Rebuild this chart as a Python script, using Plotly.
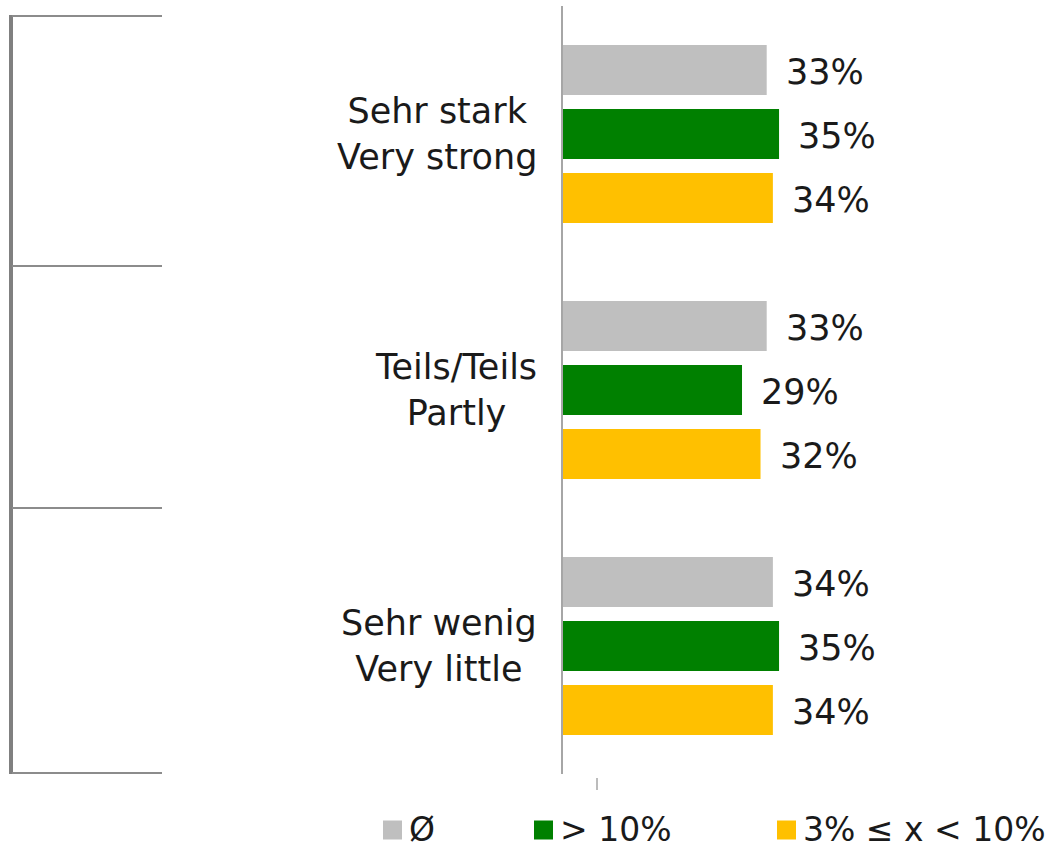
import plotly.graph_objects as go

# Categories (two-line labels) and series
categories = ["Sehr stark<br>Very strong", "Teils/Teils<br>Partly", "Sehr wenig<br>Very little"]
series_names = ["Ø", "> 10%", "3% ≤ x < 10%"]
avg_values = [33, 33, 34]
high_values = [35, 29, 35]
mid_values = [34, 32, 34]
series_values = [avg_values, high_values, mid_values]
series_colors = ["#BFBFBF", "#008000", "#FFC000"]

FONT = "DejaVu Sans"
TEXT_COLOR = "#1a1a1a"
FONT_SIZE = 35
LEGEND_FONT_SIZE = 33

W, H = 1063, 852
M_L, M_R, M_T, M_B = 563, 0, 6, 78
PLOT_W = W - M_L - M_R
PLOT_H = H - M_T - M_B

fig = go.Figure()
for name, vals, color in zip(series_names, series_values, series_colors):
    fig.add_trace(go.Bar(
        y=categories, x=vals, name=name, orientation="h",
        marker=dict(color=color, line=dict(width=0)),
    ))

# Slot height of one bar within a category (pixels), used to place value labels
bargap = 0.25
group_px = PLOT_H / len(categories)
slot_px = group_px * (1 - bargap) / len(series_names)

annotations = []
for i, vals in enumerate(series_values):
    shift = (1 - i) * slot_px
    for cat, v in zip(categories, vals):
        annotations.append(dict(
            x=v, y=cat, xref="x", yref="y", text=f"{v}%",
            showarrow=False, xanchor="left", yanchor="middle",
            xshift=17, yshift=shift - 2,
            font=dict(family=FONT, size=FONT_SIZE, color=TEXT_COLOR),
        ))

# Category labels, centred lines right-aligned against the axis
for cat in categories:
    annotations.append(dict(
        x=0, y=cat, xref="paper", yref="y", text=cat,
        showarrow=False, xanchor="right", yanchor="middle", align="center",
        xshift=-24,
        font=dict(family=FONT, size=FONT_SIZE, color=TEXT_COLOR),
    ))


def px_x(px):
    return (px - M_L) / PLOT_W


def px_y(py):
    return (H - M_B - py) / PLOT_H


# Bracket on the left: vertical bar with horizontal separators
shapes = [dict(type="line", xref="paper", yref="paper",
               x0=px_x(11), x1=px_x(11), y0=px_y(15), y1=px_y(774),
               line=dict(color="#808080", width=4))]
for py in [16, 266, 508, 773]:
    shapes.append(dict(type="line", xref="paper", yref="paper",
                       x0=px_x(12), x1=px_x(162), y0=px_y(py), y1=px_y(py),
                       line=dict(color="#8C8C8C", width=2)))
# Small tick below the plot
shapes.append(dict(type="line", xref="paper", yref="paper",
                   x0=px_x(597), x1=px_x(597), y0=px_y(778), y1=px_y(790),
                   line=dict(color="#A6A6A6", width=1.5)))

# Legend row at the bottom: colour square followed by the series name
legend_left = [383, 534, 777]
SQ = 19
square_mid_y = 830
text_mid_y = 829
for left, name, color in zip(legend_left, series_names, series_colors):
    shapes.append(dict(type="rect", xref="paper", yref="paper",
                       x0=px_x(left), x1=px_x(left + SQ),
                       y0=px_y(square_mid_y - SQ / 2), y1=px_y(square_mid_y + SQ / 2),
                       fillcolor=color, line=dict(width=0)))
    annotations.append(dict(
        x=px_x(left + SQ + 6), y=px_y(text_mid_y), xref="paper", yref="paper",
        text=name, showarrow=False, xanchor="left", yanchor="middle",
        borderpad=0,
        font=dict(family=FONT, size=LEGEND_FONT_SIZE, color=TEXT_COLOR),
    ))

fig.update_layout(
    width=W, height=H,
    margin=dict(l=M_L, r=M_R, t=M_T, b=M_B, autoexpand=False),
    paper_bgcolor="white", plot_bgcolor="white",
    barmode="group", bargap=bargap, bargroupgap=0.22,
    font=dict(family=FONT, size=FONT_SIZE, color=TEXT_COLOR),
    xaxis=dict(range=[0, 81], visible=False, fixedrange=True),
    yaxis=dict(autorange="reversed", showticklabels=False, ticks="",
               showgrid=False, zeroline=False,
               showline=True, linecolor="#A6A6A6", linewidth=1.5),
    annotations=annotations,
    shapes=shapes,
    showlegend=False,
)

fig.write_html("out.html")
